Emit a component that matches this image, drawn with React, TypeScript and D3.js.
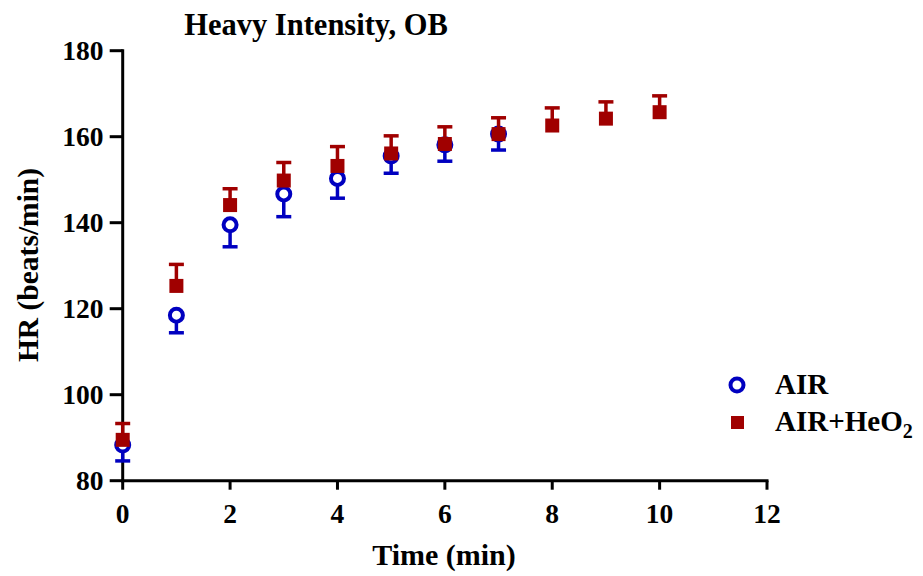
import React from "react";
import * as d3 from "d3";

const times = [0, 1, 2, 3, 4, 5, 6, 7, 8, 9, 10];
const airTimes = [0, 1, 2, 3, 4, 5, 6, 7];
const airMean = [88.3, 118.5, 139.5, 146.7, 150.3, 155.5, 158.1, 160.6];
const airSD = [3.7, 4.1, 5.1, 5.3, 4.6, 4.0, 3.8, 3.7];
const heMean = [89.5, 125.3, 144.1, 149.8, 153.2, 156.1, 158.3, 160.6, 162.6, 164.2, 165.7];
const heSD = [3.8, 5.0, 3.8, 4.2, 4.5, 4.1, 4.0, 3.8, 4.1, 3.9, 3.8];
const xTicks = [0, 2, 4, 6, 8, 10, 12];
const yTicks = [80, 100, 120, 140, 160, 180];

const BLUE = "#0000c0";
const RED = "#a00000";
const FONT = "'Liberation Serif', 'Times New Roman', serif";

export default function App() {
  const x = d3.scaleLinear().domain([0, 12]).range([122.7, 767]);
  const y = d3.scaleLinear().domain([80, 180]).range([480.7, 50.7]);
  const capW = 15;

  return (
    <svg width={923} height={576} style={{ position: "absolute", left: 0, top: 0, background: "#fff" }}>
      <text x={316} y={35} textAnchor="middle" fontFamily={FONT} fontWeight="bold" fontSize={30.5}>
        Heavy Intensity, OB
      </text>

      {/* axes */}
      <g stroke="#000" strokeWidth={3} fill="none">
        <line x1={x(0)} x2={x(0)} y1={y(180) - 1.5} y2={y(80) + 1.5} />
        <line x1={x(0) - 1.5} x2={x(12) + 1.5} y1={y(80)} y2={y(80)} />
        {yTicks.map((t) => (
          <line key={"yt" + t} x1={x(0) - 13} x2={x(0)} y1={y(t)} y2={y(t)} />
        ))}
        {xTicks.map((t) => (
          <line key={"xt" + t} x1={x(t)} x2={x(t)} y1={y(80)} y2={y(80) + 9} />
        ))}
      </g>
      {yTicks.map((t) => (
        <text key={"yl" + t} x={103.5} y={y(t) + 9} textAnchor="end" fontFamily={FONT} fontWeight="bold" fontSize={27.5}>
          {t}
        </text>
      ))}
      {xTicks.map((t) => (
        <text key={"xl" + t} x={x(t)} y={523} textAnchor="middle" fontFamily={FONT} fontWeight="bold" fontSize={27.5}>
          {t}
        </text>
      ))}
      <text x={444} y={565} textAnchor="middle" fontFamily={FONT} fontWeight="bold" fontSize={30}>
        Time (min)
      </text>
      <text
        transform={`translate(37.5,265) rotate(-90)`}
        textAnchor="middle"
        fontFamily={FONT}
        fontWeight="bold"
        fontSize={29.5}
      >
        HR (beats/min)
      </text>

      {/* AIR: downward error bars, open circles */}
      <g>
        {airTimes.map((t, i) => (
          <g key={"a" + t} stroke={BLUE} strokeWidth={3.5}>
            <line x1={x(t)} x2={x(t)} y1={y(airMean[i])} y2={y(airMean[i] - airSD[i])} />
            <line x1={x(t) - capW / 2} x2={x(t) + capW / 2} y1={y(airMean[i] - airSD[i])} y2={y(airMean[i] - airSD[i])} />
            <circle cx={x(t)} cy={y(airMean[i])} r={6.5} fill="#fff" strokeWidth={4} />
          </g>
        ))}
      </g>

      {/* AIR+HeO2: upward error bars, filled squares */}
      <g>
        {times.map((t, i) => (
          <g key={"h" + t}>
            <g stroke={RED} strokeWidth={3.5}>
              <line x1={x(t)} x2={x(t)} y1={y(heMean[i])} y2={y(heMean[i] + heSD[i])} />
              <line x1={x(t) - capW / 2} x2={x(t) + capW / 2} y1={y(heMean[i] + heSD[i])} y2={y(heMean[i] + heSD[i])} />
            </g>
            <rect x={x(t) - 7} y={y(heMean[i]) - 7} width={14} height={14} fill={RED} />
          </g>
        ))}
      </g>

      {/* legend */}
      <circle cx={737} cy={385} r={6.5} fill="#fff" stroke={BLUE} strokeWidth={4} />
      <text x={775} y={394} fontFamily={FONT} fontWeight="bold" fontSize={29}>AIR</text>
      <rect x={731} y={416} width={13} height={13} fill={RED} />
      <text x={775} y={431} fontFamily={FONT} fontWeight="bold" fontSize={29}>
        AIR+HeO<tspan fontSize={20} dy={7}>2</tspan>
      </text>
    </svg>
  );
}
